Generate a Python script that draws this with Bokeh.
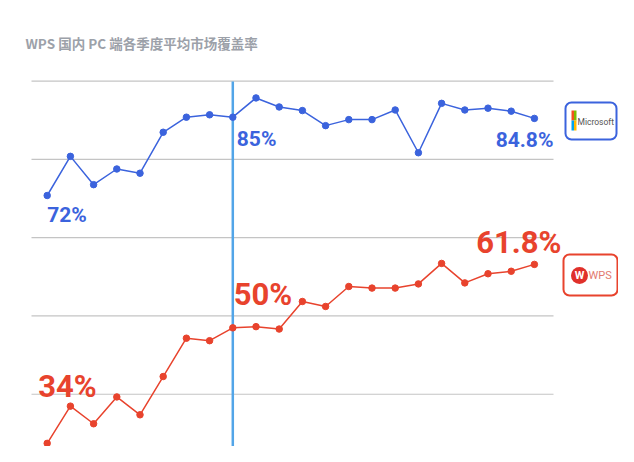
from bokeh.plotting import figure
from bokeh.models import Range1d, LogScale
from bokeh.core.properties import value
from bokeh.embed import file_html
from bokeh.resources import INLINE
import math

# ---------------- data ----------------
title = "WPS 国内 PC 端各季度平均市场覆盖率"
quarters = list(range(22))
microsoft = [72.0, 78.5, 73.8, 76.4, 75.7, 82.5, 85.0, 85.4, 85.0, 88.2, 86.7,
             86.1, 83.6, 84.6, 84.6, 86.2, 79.1, 87.3, 86.2, 86.5, 86.0, 84.8]
wps = [34.0, 38.5, 36.3, 39.7, 37.4, 42.5, 48.3, 47.9, 50.0, 50.2, 49.8,
       54.6, 53.7, 57.4, 57.1, 57.1, 57.9, 62.0, 58.1, 59.9, 60.4, 61.8]
labelled = [0, 8, 21]          # quarters whose values are annotated
highlight = 8                  # quarter marked by the vertical line
grid_levels = [39, 52, 65, 78, 91]
ms_name = "Microsoft"
wps_name = "WPS"

# ---------------- geometry ----------------
W, H = 618, 446
X0, X1 = -46.7 / 23.2, (W - 46.7) / 23.2
# blue (linear): 72 -> 195px, 6.023 px per point
Y1 = 72 + 195 / 6.023
Y0 = 72 - (H - 195) / 6.023
# red (log): y = 1499 - 299.5*ln(v)
R1 = math.exp(1499.0 / 299.5)
R0 = math.exp((1499.0 - H) / 299.5)

def xd(px):
    return X0 + px / W * (X1 - X0)

def yd(py):
    return Y1 - py / H * (Y1 - Y0)

BLUE = "#3b63dd"
RED = "#e8432d"
VLINE = "#52a5e8"
GRID = "#c4c4c4"
LABEL_FONT = value("Roboto")

p = figure(width=W, height=H, x_range=Range1d(X0, X1), y_range=Range1d(Y0, Y1),
           output_backend="svg", toolbar_location=None,
           x_axis_location=None, y_axis_location=None,
           min_border=0, outline_line_color=None, background_fill_color="white")
p.xgrid.visible = False
p.ygrid.visible = False
p.extra_y_ranges = {"wps": Range1d(R0, R1)}
p.extra_y_scales = {"wps": LogScale()}

# grid lines
n = len(grid_levels)
p.segment(x0=[xd(31)] * n, x1=[xd(553)] * n, y0=grid_levels, y1=grid_levels,
          line_color=GRID, line_width=1.2)

# vertical highlight line
p.segment(x0=[highlight], x1=[highlight], y0=[yd(81)], y1=[Y0],
          line_color=VLINE, line_width=2.5)

# series
p.line(quarters, microsoft, line_color=BLUE, line_width=1.5)
p.scatter(quarters, microsoft, size=6.5, fill_color=BLUE, line_color=BLUE)
p.line(quarters, wps, line_color=RED, line_width=1.5, y_range_name="wps")
p.scatter(quarters, wps, size=6.5, fill_color=RED, line_color=RED, y_range_name="wps")

# value labels
ms_off = [(0, 19, "left"), (4, 22, "left"), (19, 22, "right")]
for i, (dx, dy, al) in zip(labelled, ms_off):
    p.text(x=[quarters[i]], y=[microsoft[i]], text=[f"{microsoft[i]:g}%"],
           x_offset=dx, y_offset=dy, text_align=al, text_baseline="alphabetic",
           text_font=LABEL_FONT, text_font_style="bold", text_font_size="21px",
           text_color=BLUE)
wps_off = [(-9, -57, "left"), (1, -33, "left"), (27, -22, "right")]
for i, (dx, dy, al) in zip(labelled, wps_off):
    p.text(x=[quarters[i]], y=[wps[i]], text=[f"{wps[i]:g}%"],
           x_offset=dx, y_offset=dy, text_align=al, text_baseline="alphabetic",
           text_font=LABEL_FONT, text_font_style="bold", text_font_size="31px",
           text_color=RED, y_range_name="wps")

# Microsoft badge
p.quad(left=[xd(565)], right=[xd(616)], top=[yd(102)], bottom=[yd(139)],
       fill_color="white", line_color=BLUE, line_width=2, border_radius=6)
for (l, r, t, b, c) in [(571, 573.5, 110, 120, "#f25022"), (573.5, 576, 110, 120, "#7fba00"),
                        (571, 573.5, 120, 130, "#00a4ef"), (573.5, 576, 120, 130, "#ffb900")]:
    p.quad(left=[xd(l)], right=[xd(r)], top=[yd(t)], bottom=[yd(b)],
           fill_color=c, line_color=None)
p.text(x=[xd(577)], y=[yd(121)], text=[ms_name], text_align="left", text_baseline="middle",
       text_font=LABEL_FONT, text_font_size="8.5px", text_color="#555555")

# WPS badge
p.quad(left=[xd(563)], right=[xd(617)], top=[yd(254)], bottom=[yd(295)],
       fill_color="white", line_color=RED, line_width=2, border_radius=6)
p.scatter(x=[xd(579)], y=[yd(275)], size=17, fill_color="#e0302a", line_color=None)
p.text(x=[xd(579)], y=[yd(275)], text=["W"], text_align="center", text_baseline="middle",
       text_font=LABEL_FONT, text_font_style="bold", text_font_size="11px",
       text_color="white")
p.text(x=[xd(588)], y=[yd(275)], text=[wps_name], text_align="left", text_baseline="middle",
       text_font=LABEL_FONT, text_font_size="11px", text_color="#e27a70")

# title
p.text(x=[xd(25)], y=[yd(42)], text=[title], text_align="left", text_baseline="alphabetic",
       text_font=value("Noto Sans CJK SC"), text_font_style="bold", text_font_size="13.5px",
       text_color="#9ca1a9")

open("out.html", "w").write(file_html(p, INLINE))
